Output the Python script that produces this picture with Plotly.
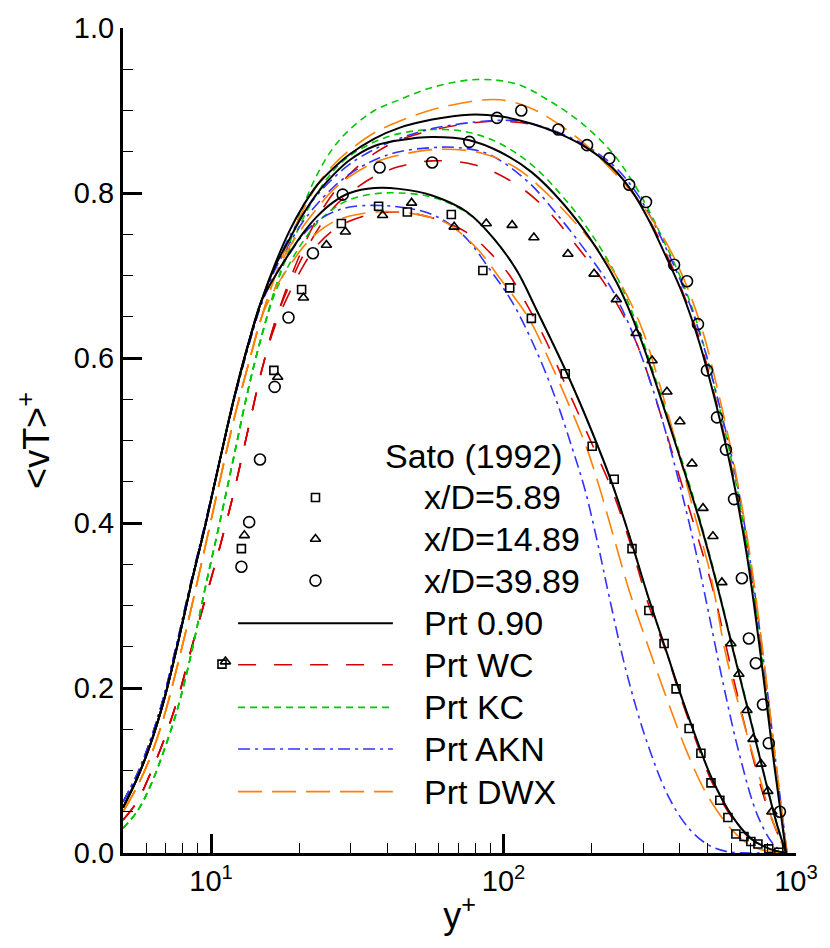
import plotly.graph_objects as go
import numpy as np

# ---------------- data (y+, <vT>+) ----------------
# near-wall y+ positions shared by all stations
xw = [5, 5.58, 6.18, 6.9, 7.71, 8.6, 9.6, 10.7, 11.96, 13.36, 14.9]
# outer positions shared by most curves
xo = [16.6, 18.6, 20.7, 23.1, 26.2, 29.8, 36.2, 44]

# Prt 0.90 (black solid)
blk_w = [0.055, 0.09, 0.13, 0.185, 0.255, 0.33, 0.40, 0.475, 0.55, 0.615, 0.67]
blk_39_x = xo + [57, 76.4, 97, 125, 155, 192, 235, 275, 314, 354, 407, 466, 532, 604, 680, 760, 840, 925]
blk_39_y = [0.715, 0.755, 0.785, 0.81, 0.83, 0.847, 0.866, 0.879, 0.889, 0.895, 0.893, 0.884, 0.872, 0.855, 0.831, 0.802, 0.767, 0.728, 0.68, 0.62, 0.545, 0.46, 0.36, 0.235, 0.11, 0.0]
blk_14_x = xo + [57, 76.4, 97, 125, 160, 200, 245, 291, 340, 398, 466, 537, 620, 706, 790, 860, 925]
blk_14_y = [0.712, 0.745, 0.775, 0.80, 0.822, 0.84, 0.857, 0.864, 0.868, 0.864, 0.85, 0.825, 0.787, 0.742, 0.69, 0.628, 0.558, 0.483, 0.405, 0.325, 0.235, 0.155, 0.085, 0.035, 0.0]
blk_5_x = xo + [57, 75, 92, 111, 129, 164, 201, 235, 273, 314, 360, 398, 455, 516, 604, 700, 800, 922]
blk_5_y = [0.70, 0.728, 0.752, 0.772, 0.789, 0.80, 0.806, 0.805, 0.797, 0.777, 0.746, 0.706, 0.66, 0.583, 0.51, 0.448, 0.378, 0.308, 0.245, 0.198, 0.14, 0.09, 0.045, 0.018, 0.006, 0.0]

# Prt AKN (blue dash-dot)
blu_w = [0.062, 0.095, 0.135, 0.19, 0.26, 0.333, 0.403, 0.475, 0.548, 0.612, 0.667]
blu_39_x = xo + [57, 80, 105, 125, 155, 192, 240, 285, 325, 365, 418, 478, 545, 620, 700, 780, 860, 932]
blu_39_y = [0.71, 0.748, 0.775, 0.798, 0.818, 0.835, 0.853, 0.866, 0.878, 0.886, 0.888, 0.884, 0.873, 0.857, 0.832, 0.80, 0.765, 0.728, 0.68, 0.62, 0.545, 0.46, 0.35, 0.225, 0.10, 0.0]
blu_14_x = xo + [57, 70, 89, 120, 155, 200, 235, 275, 322, 360, 398, 450, 500, 560, 640, 740, 840, 922]
blu_14_y = [0.708, 0.74, 0.766, 0.787, 0.807, 0.823, 0.84, 0.85, 0.855, 0.855, 0.847, 0.815, 0.771, 0.72, 0.683, 0.632, 0.565, 0.508, 0.45, 0.372, 0.295, 0.21, 0.12, 0.045, 0.01, 0.0]
blu_5_x = xo + [57, 72.3, 91.6, 107, 129, 151, 172, 190, 210, 230, 262, 307, 368, 430, 500, 576, 700, 922]
blu_5_y = [0.70, 0.727, 0.75, 0.766, 0.777, 0.783, 0.785, 0.783, 0.774, 0.75, 0.703, 0.668, 0.61, 0.55, 0.49, 0.44, 0.375, 0.31, 0.222, 0.138, 0.067, 0.03, 0.01, 0.002, 0.0, 0.0]

# Prt DWX (orange long dash)
org_w = [0.05, 0.08, 0.115, 0.165, 0.23, 0.30, 0.375, 0.45, 0.525, 0.59, 0.65]
org_39_x = xo + [57, 81, 97, 120, 143, 186, 243, 291, 330, 370, 420, 480, 545, 615, 690, 770, 850, 932]
org_39_y = [0.70, 0.745, 0.78, 0.81, 0.834, 0.852, 0.873, 0.887, 0.901, 0.912, 0.913, 0.905, 0.891, 0.862, 0.822, 0.79, 0.762, 0.732, 0.69, 0.632, 0.555, 0.47, 0.37, 0.245, 0.115, 0.0]
org_14_x = xo + [60, 85, 111, 143, 180, 225, 265, 300, 345, 395, 450, 512, 576, 660, 746, 830, 923]
org_14_y = [0.70, 0.735, 0.76, 0.782, 0.804, 0.82, 0.837, 0.846, 0.853, 0.848, 0.83, 0.797, 0.76, 0.718, 0.675, 0.632, 0.563, 0.488, 0.41, 0.335, 0.24, 0.16, 0.095, 0.04, 0.0]
org_5_x = xo + [57, 65, 81, 97, 122, 143, 168, 192, 212, 235, 269, 307, 360, 421, 492, 590, 674, 760, 922]
org_5_y = [0.685, 0.712, 0.735, 0.752, 0.765, 0.772, 0.777, 0.777, 0.77, 0.762, 0.733, 0.697, 0.648, 0.598, 0.542, 0.492, 0.445, 0.39, 0.318, 0.258, 0.189, 0.125, 0.073, 0.032, 0.013, 0.004, 0.0]

# Prt KC (green short dash)
grn_w = [0.03, 0.05, 0.08, 0.124, 0.177, 0.245, 0.325, 0.40, 0.48, 0.56, 0.627]
grn_39_x = xo + [57, 81, 111, 143, 186, 235, 275, 314, 354, 407, 466, 532, 604, 680, 760, 840, 930]
grn_39_y = [0.685, 0.74, 0.785, 0.823, 0.855, 0.877, 0.90, 0.913, 0.928, 0.9376, 0.932, 0.912, 0.884, 0.849, 0.815, 0.779, 0.741, 0.694, 0.635, 0.558, 0.473, 0.372, 0.245, 0.115, 0.0]
grn_14_x = xo + [57, 75, 97, 125, 160, 200, 245, 291, 340, 398, 466, 537, 620, 706, 790, 860, 927]
grn_14_y = [0.685, 0.732, 0.77, 0.80, 0.827, 0.845, 0.862, 0.872, 0.877, 0.874, 0.86, 0.834, 0.795, 0.75, 0.697, 0.633, 0.562, 0.487, 0.408, 0.327, 0.237, 0.157, 0.086, 0.036, 0.0]
grn_5_x = xo + [57, 75, 92, 111, 129, 164, 201, 235, 273, 314, 360, 398, 455, 516, 604, 700, 800, 922]
grn_5_y = [0.68, 0.715, 0.742, 0.764, 0.781, 0.792, 0.799, 0.80, 0.795, 0.776, 0.746, 0.706, 0.66, 0.583, 0.51, 0.448, 0.378, 0.308, 0.245, 0.198, 0.14, 0.09, 0.045, 0.018, 0.006, 0.0]

# Prt WC (red long dash)
red_w = [0.04, 0.062, 0.095, 0.137, 0.188, 0.25, 0.31, 0.37, 0.437, 0.512, 0.585]
red_39_x = xo + [57, 75, 95, 125, 155, 192, 235, 278, 318, 358, 410, 470, 535, 608, 690, 770, 850, 926]
red_39_y = [0.645, 0.695, 0.735, 0.77, 0.80, 0.823, 0.848, 0.864, 0.876, 0.884, 0.887, 0.883, 0.872, 0.855, 0.831, 0.80, 0.765, 0.728, 0.68, 0.62, 0.545, 0.46, 0.355, 0.23, 0.105, 0.0]
red_14_x = xo + [57, 80, 111, 143, 176, 220, 260, 291, 340, 395, 455, 524, 599, 690, 790, 924]
red_14_y = [0.645, 0.69, 0.725, 0.755, 0.782, 0.80, 0.82, 0.832, 0.839, 0.834, 0.81, 0.777, 0.738, 0.692, 0.648, 0.61, 0.538, 0.462, 0.39, 0.315, 0.225, 0.135, 0.06, 0.0]
red_5_x = xo + [57, 75, 92, 105, 120, 140, 165, 200, 235, 273, 314, 360, 398, 455, 516, 604, 700, 800, 922]
red_5_y = [0.64, 0.68, 0.712, 0.737, 0.755, 0.766, 0.775, 0.777, 0.77, 0.752, 0.724, 0.70, 0.665, 0.62, 0.563, 0.497, 0.44, 0.372, 0.30, 0.243, 0.195, 0.136, 0.086, 0.043, 0.017, 0.006, 0.0]

# Sato (1992) experiments
sq_x = [10.9, 12.7, 16.4, 20.4, 27.9, 37.4, 46.9, 66.3, 85, 105, 124.5, 162.5, 201, 239, 275, 314, 354, 389, 431, 473, 512, 549, 585, 623, 664, 701, 741, 807, 873]
sq_y = [0.229, 0.369, 0.585, 0.683, 0.763, 0.784, 0.777, 0.774, 0.706, 0.685, 0.648, 0.581, 0.493, 0.453, 0.369, 0.294, 0.254, 0.199, 0.151, 0.121, 0.085, 0.064, 0.043, 0.023, 0.020, 0.014, 0.011, 0.005, 0.001]
tr_x = [11.2, 13.0, 16.9, 20.7, 24.8, 28.8, 38.6, 48.5, 67.8, 87.3, 107, 127, 166, 204, 243, 284, 322, 362, 401, 441, 481, 520, 558, 599, 638, 680, 713, 759, 801, 827]
tr_y = [0.232, 0.385, 0.577, 0.673, 0.737, 0.753, 0.773, 0.788, 0.759, 0.763, 0.761, 0.746, 0.726, 0.702, 0.671, 0.630, 0.597, 0.559, 0.523, 0.472, 0.418, 0.384, 0.328, 0.254, 0.217, 0.173, 0.138, 0.108, 0.075, 0.050]
ci_x = [12.7, 13.5, 14.7, 16.5, 18.4, 22.3, 28.2, 37.7, 57, 76.4, 95, 115, 154, 193, 230, 269, 307, 383, 424, 462, 496, 537, 576, 614, 653, 690, 729, 771, 807, 881]
ci_y = [0.347, 0.401, 0.477, 0.565, 0.649, 0.727, 0.798, 0.831, 0.837, 0.862, 0.891, 0.900, 0.877, 0.858, 0.842, 0.810, 0.789, 0.713, 0.693, 0.641, 0.585, 0.528, 0.489, 0.429, 0.333, 0.260, 0.230, 0.180, 0.133, 0.050]

FONT = "Liberation Sans, Arial, Helvetica, sans-serif"
RED = "#d40000"
GRN = "#00c800"
BLU = "#3232ff"
ORG = "#ff8000"

styles = {
    "blk": dict(color="black", width=2, dash="solid"),
    "red": dict(color=RED, width=1.6, dash="18px,18px"),
    "grn": dict(color=GRN, width=1.6, dash="7px,5px"),
    "blu": dict(color=BLU, width=1.6, dash="12px,5px,3px,5px"),
    "org": dict(color=ORG, width=1.6, dash="24px,10px"),
}

curves = [
    ("red", red_w, red_39_x, red_39_y), ("red", red_w, red_14_x, red_14_y), ("red", red_w, red_5_x, red_5_y),
    ("grn", grn_w, grn_39_x, grn_39_y), ("grn", grn_w, grn_14_x, grn_14_y), ("grn", grn_w, grn_5_x, grn_5_y),
    ("blu", blu_w, blu_39_x, blu_39_y), ("blu", blu_w, blu_14_x, blu_14_y), ("blu", blu_w, blu_5_x, blu_5_y),
    ("org", org_w, org_39_x, org_39_y), ("org", org_w, org_14_x, org_14_y), ("org", org_w, org_5_x, org_5_y),
    ("blk", blk_w, blk_39_x, blk_39_y), ("blk", blk_w, blk_14_x, blk_14_y), ("blk", blk_w, blk_5_x, blk_5_y),
]

fig = go.Figure()
for key, yw, xs, ys in curves:
    st = styles[key]
    fig.add_trace(go.Scatter(x=xw + xs, y=yw + ys, mode="lines", showlegend=False,
                             line=dict(color=st["color"], width=st["width"], dash=st["dash"],
                                       shape="spline", smoothing=1.0),
                             hoverinfo="skip"))

mk = dict(color="black", line=dict(color="black", width=1.6))
fig.add_trace(go.Scatter(x=sq_x, y=sq_y, mode="markers", showlegend=False,
                         marker=dict(symbol="square-open", size=8, **mk)))
fig.add_trace(go.Scatter(x=tr_x, y=tr_y, mode="markers", showlegend=False,
                         marker=dict(symbol="triangle-up-open", size=9, **mk)))
fig.add_trace(go.Scatter(x=ci_x, y=ci_y, mode="markers", showlegend=False,
                         marker=dict(symbol="circle-open", size=11, **mk)))

# ---------------- manual legend on an overlay axis (0..1 = plot area) ----------------
leg_line_x = [0.171, 0.401]
leg_sym_x = 0.286
leg_text_x = 0.444
leg_rows_sym = [(0.431, "square-open", 8, "x/D=5.89"),
                (0.3806, "triangle-up-open", 9, "x/D=14.89"),
                (0.3301, "circle-open", 11, "x/D=39.89")]
leg_rows_line = [(0.2785, "blk", "Prt 0.90"), (0.2281, "red", "Prt WC"),
                 (0.1765, "grn", "Prt KC"), (0.1261, "blu", "Prt AKN"),
                 (0.0744, "org", "Prt DWX")]

annos = [dict(x=0.3858, y=0.4814, xref="x2", yref="y2", text="Sato (1992)", showarrow=False,
              xanchor="left", yanchor="middle", font=dict(size=34, family=FONT, color="black"))]
for yy, sym, sz, label in leg_rows_sym:
    fig.add_trace(go.Scatter(x=[leg_sym_x], y=[yy], xaxis="x2", yaxis="y2", mode="markers",
                             showlegend=False, marker=dict(symbol=sym, size=sz, **mk), hoverinfo="skip"))
    annos.append(dict(x=leg_text_x, y=yy, xref="x2", yref="y2", text=label, showarrow=False,
                      xanchor="left", yanchor="middle", font=dict(size=34, family=FONT, color="black")))
for yy, key, label in leg_rows_line:
    st = styles[key]
    fig.add_trace(go.Scatter(x=leg_line_x, y=[yy, yy], xaxis="x2", yaxis="y2", mode="lines",
                             showlegend=False, line=dict(color=st["color"], width=st["width"], dash=st["dash"]),
                             hoverinfo="skip"))
    annos.append(dict(x=leg_text_x, y=yy, xref="x2", yref="y2", text=label, showarrow=False,
                      xanchor="left", yanchor="middle", font=dict(size=34, family=FONT, color="black")))

minor_x = [5, 6, 7, 8, 9, 20, 30, 40, 50, 60, 70, 80, 90, 200, 300, 400, 500, 600, 700, 800, 900]

fig.update_layout(
    width=830, height=948,
    margin=dict(l=123, r=33, t=20, b=95),
    paper_bgcolor="white", plot_bgcolor="white",
    font=dict(family=FONT, color="black"),
    annotations=annos,
    xaxis=dict(type="log", range=[np.log10(5), 3], showgrid=False, zeroline=False,
               showline=True, linecolor="black", linewidth=3,
               ticks="inside", ticklen=19, tickwidth=3, tickcolor="black",
               tickvals=[10, 100, 1000], ticktext=["10<sup>1</sup>", "10<sup>2</sup>", "10<sup>3</sup>"],
               tickfont=dict(size=29, family=FONT, color="black"),
               minor=dict(ticks="inside", ticklen=10, tickwidth=1, tickcolor="black",
                          tickvals=minor_x, showgrid=False),
               title=dict(text="y<sup>+</sup>", font=dict(size=36, family=FONT, color="black"), standoff=8)),
    yaxis=dict(range=[0, 1.0], showgrid=False, zeroline=False,
               showline=True, linecolor="black", linewidth=3,
               ticks="inside", ticklen=19, tickwidth=3, tickcolor="black",
               dtick=0.2, tick0=0, tickformat=".1f",
               tickfont=dict(size=29, family=FONT, color="black"),
               minor=dict(ticks="inside", ticklen=10, tickwidth=1, tickcolor="black",
                          dtick=0.05, showgrid=False),
               title=dict(text="&lt;vT&gt;<sup>+</sup>", font=dict(size=36, family=FONT, color="black"),
                          standoff=14)),
    xaxis2=dict(overlaying="x", range=[0, 1], visible=False, fixedrange=True),
    yaxis2=dict(overlaying="y", range=[0, 1], visible=False, fixedrange=True),
)

fig.write_html("out.html")
